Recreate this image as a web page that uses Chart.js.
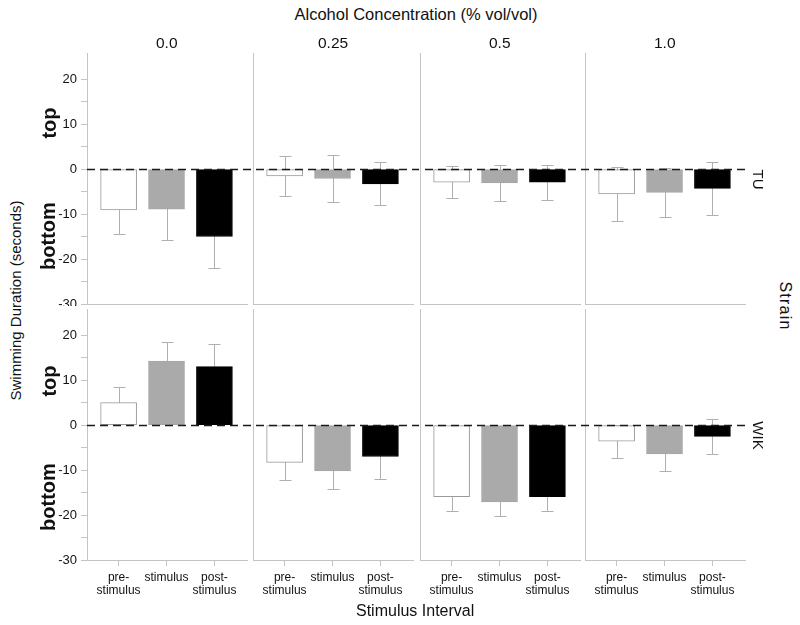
<!DOCTYPE html>
<html>
<head>
<meta charset="utf-8">
<script src="https://cdn.jsdelivr.net/npm/chart.js@4"></script>
<style>
  html, body { margin: 0; padding: 0; background: #fff; }
  #wrap { position: relative; width: 800px; height: 625px; overflow: hidden; font-family: "Liberation Sans", Arial, sans-serif; color: #111; }
  #wrap canvas { position: absolute; }
  .t { position: absolute; white-space: nowrap; transform-origin: center center; }
</style>
</head>
<body>
<div id="wrap"></div>
<script>
// ---------------- DATA ----------------
const intervals = [["pre-", "stimulus"], "stimulus", ["post-", "stimulus"]];
const concentrations = ["0.0", "0.25", "0.5", "1.0"];
const strains = ["TU", "WIK"];
const yTicks = [20, 10, 0, -10, -20, -30];

// mean swimming duration (seconds), one value per concentration
const tuPre   = [-9.1, -1.55, -2.9, -5.55];
const tuStim  = [-8.9, -2.1, -3.1, -5.2];
const tuPost  = [-15.0, -3.3, -2.9, -4.3];
const wikPre  = [5.0, -8.3, -15.9, -3.6];
const wikStim = [14.2, -10.2, -17.1, -6.4];
const wikPost = [13.0, -7.0, -15.9, -2.5];

// error bar half-widths
const tuPreErr   = [5.4, 4.35, 3.6, 6.05];
const tuStimErr  = [6.9, 5.15, 4.05, 5.4];
const tuPostErr  = [7.1, 4.8, 3.9, 5.85];
const wikPreErr  = [3.5, 3.9, 3.1, 3.7];
const wikStimErr = [4.2, 4.0, 3.1, 3.8];
const wikPostErr = [5.0, 5.0, 3.3, 3.9];

// --------------- LAYOUT ---------------
const FONT = '"Liberation Sans", Arial, sans-serif';
const colLeft = [87, 253, 420, 585];
const panelW = 160;
const rowTop = [53, 309];
const panelH = 251;
const Y_MIN = -30, Y_MAX = 25.8;
const X_MIN = -0.66, X_MAX = 2.68;
const barFill = ["#ffffff", "#aaaaaa", "#000000"];
const barBorder = ["#9a9a9a", "#a6a6a6", "#000000"];
const axisColor = "#c4c4c4";
const errColor = "#b0b0b0";

const rows = [
  { means: [tuPre, tuStim, tuPost], errs: [tuPreErr, tuStimErr, tuPostErr] },
  { means: [wikPre, wikStim, wikPost], errs: [wikPreErr, wikStimErr, wikPostErr] }
];

const wrap = document.getElementById('wrap');

const errorBarPlugin = {
  id: 'errbars',
  beforeDatasetsDraw(chart, args, opts) {
    const ctx = chart.ctx, xs = chart.scales.x, ys = chart.scales.y;
    const ds = chart.data.datasets[0];
    ctx.save();
    ctx.strokeStyle = errColor;
    ctx.lineWidth = 1;
    ds.data.forEach((p, i) => {
      const e = opts.errs[i];
      const x = Math.round(xs.getPixelForValue(p.x)) + 0.5;
      const yHi = Math.round(ys.getPixelForValue(p.y + e)) + 0.5;
      const yLo = Math.round(ys.getPixelForValue(p.y - e)) + 0.5;
      const cw = 6;
      ctx.beginPath();
      ctx.moveTo(x, yHi); ctx.lineTo(x, yLo);
      ctx.moveTo(x - cw, yHi); ctx.lineTo(x + cw, yHi);
      ctx.moveTo(x - cw, yLo); ctx.lineTo(x + cw, yLo);
      ctx.stroke();
    });
    ctx.restore();
  }
};

const zeroLinePlugin = {
  id: 'zeroline',
  afterDatasetsDraw(chart, args, opts) {
    const ctx = chart.ctx, ys = chart.scales.y, a = chart.chartArea;
    const y = Math.round(ys.getPixelForValue(0)) + 0.5;
    ctx.save();
    ctx.strokeStyle = '#1a1a1a';
    ctx.lineWidth = 1.7;
    ctx.setLineDash([8, 5]);
    ctx.lineDashOffset = opts.dashOffset || 0;
    ctx.beginPath();
    ctx.moveTo(a.left, y);
    ctx.lineTo(a.right + opts.extend, y);
    ctx.stroke();
    ctx.restore();
  }
};

for (let r = 0; r < 2; r++) {
  for (let c = 0; c < 4; c++) {
    const axisW = c === 0 ? 45 : 6;
    const padR = c < 3 ? 6 : 2;
    const padTop = 4;
    const bottomH = r === 1 ? 48 : 2;
    const cw = axisW + panelW + padR;
    const chH = padTop + panelH + bottomH;
    const canvas = document.createElement('canvas');
    canvas.style.left = (colLeft[c] - axisW) + 'px';
    canvas.style.top = (rowTop[r] - padTop) + 'px';
    canvas.style.width = cw + 'px';
    canvas.style.height = chH + 'px';
    canvas.width = cw; canvas.height = chH;
    wrap.appendChild(canvas);

    const pts = [0, 1, 2].map(i => ({ x: i, y: rows[r].means[i][c] }));
    const errs = [0, 1, 2].map(i => rows[r].errs[i][c]);

    new Chart(canvas, {
      type: 'bar',
      data: {
        datasets: [{
          data: pts,
          backgroundColor: barFill,
          borderColor: barBorder,
          borderWidth: 1,
          borderSkipped: false,
          barThickness: 36
        }]
      },
      plugins: [errorBarPlugin, zeroLinePlugin],
      options: {
        responsive: false,
        animation: false,
        events: [],
        layout: { padding: { top: padTop, right: padR, left: 0, bottom: 0 } },
        plugins: {
          legend: { display: false },
          tooltip: { enabled: false },
          errbars: { errs: errs },
          zeroline: { extend: padR, dashOffset: (colLeft[c] - colLeft[0]) % 13 }
        },
        scales: {
          x: {
            type: 'linear',
            min: X_MIN, max: X_MAX,
            offset: false,
            border: { display: true, color: axisColor, width: 1 },
            grid: { offset: false, drawOnChartArea: false, drawTicks: r === 1, tickLength: 6, color: axisColor },
            ticks: {
              display: r === 1,
              stepSize: 1,
              autoSkip: false,
              maxRotation: 0,
              padding: 5,
              color: '#111',
              font: { family: FONT, size: 12, lineHeight: 1.08 },
              callback: (v) => intervals[v]
            },
            afterBuildTicks: (s) => { s.ticks = [0, 1, 2].map(v => ({ value: v })); },
            afterFit: (s) => { s.height = bottomH; s.paddingLeft = 0; s.paddingRight = 0; }
          },
          y: {
            type: 'linear',
            min: Y_MIN, max: Y_MAX,
            border: { display: true, color: axisColor, width: 1 },
            grid: { offset: false, drawOnChartArea: false, drawTicks: c === 0, tickLength: 6, color: axisColor },
            ticks: {
              display: c === 0,
              autoSkip: false,
              padding: 4,
              color: '#111',
              font: { family: FONT, size: 13 },
              callback: (v) => (yTicks.includes(v) ? String(v) : '')
            },
            afterBuildTicks: (s) => {
              const t = [];
              for (let v = -30; v <= 20; v += 5) t.push({ value: v });
              s.ticks = t;
            },
            afterFit: (s) => { s.width = axisW; s.paddingTop = 0; s.paddingBottom = 0; }
          }
        }
      }
    });
  }
}

// --------------- TEXT ---------------
function addText(txt, cx, cy, size, opts = {}) {
  const d = document.createElement('div');
  d.className = 't';
  d.textContent = txt;
  d.style.fontSize = size + 'px';
  d.style.fontWeight = opts.bold ? 'bold' : 'normal';
  d.style.lineHeight = '1';
  if (opts.ls) d.style.letterSpacing = opts.ls + 'px';
  wrap.appendChild(d);
  const w = d.offsetWidth, h = d.offsetHeight;
  d.style.left = (cx - w / 2) + 'px';
  d.style.top = (cy - h / 2) + 'px';
  if (opts.rot) d.style.transform = 'rotate(' + opts.rot + 'deg)';
}

addText('Alcohol Concentration (% vol/vol)', 416, 14, 16.5);
concentrations.forEach((t, c) => addText(t, colLeft[c] + panelW / 2, 43, 15.5));
addText('Swimming Duration (seconds)', 15, 300, 15, { rot: -90 });
addText('Stimulus Interval', 415, 611, 16);
addText('Strain', 784, 306, 16, { rot: 90, ls: 1.2 });
addText(strains[0], 758, 179, 15, { rot: 90 });
addText(strains[1], 758, 435, 15, { rot: 90 });
const topLbl = [123, 381], botLbl = [236, 497];
for (let r = 0; r < 2; r++) {
  addText('top', 48, topLbl[r], 20, { bold: true, rot: -90 });
  addText('bottom', 48, botLbl[r], 20, { bold: true, rot: -90 });
}
</script>
</body>
</html>
